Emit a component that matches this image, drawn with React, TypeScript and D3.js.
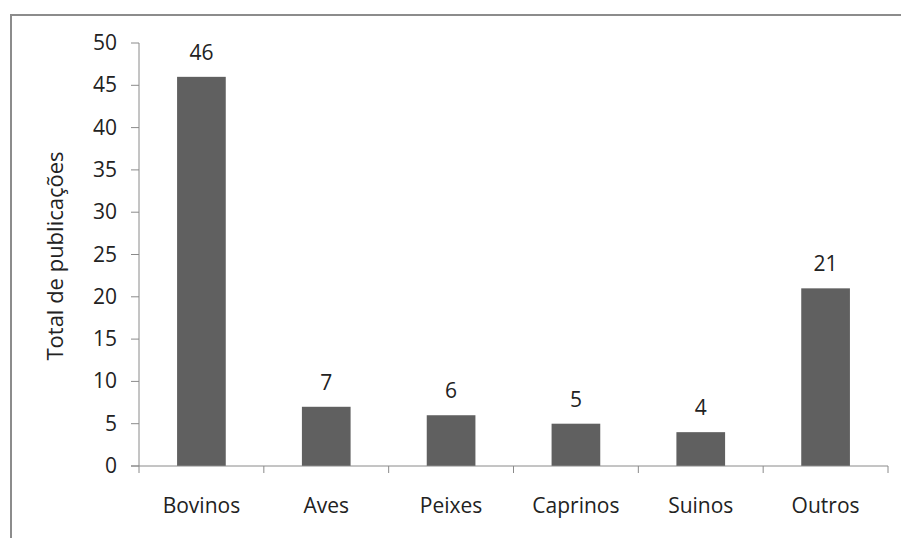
import React from "react";
import * as d3 from "d3";

const categories = ["Bovinos", "Aves", "Peixes", "Caprinos", "Suinos", "Outros"];
const values = [46, 7, 6, 5, 4, 21];
const yTicks = [0, 5, 10, 15, 20, 25, 30, 35, 40, 45, 50];
const yLabel = "Total de publicações";

export default function App() {
  const W = 901, H = 538;
  const left = 139, right = 888, top = 43, bottom = 466;
  const x = d3.scaleBand<string>().domain(categories).range([left, right]).paddingInner(0.61).paddingOuter(0.305);
  const y = d3.scaleLinear().domain([0, 50]).range([bottom, top]);
  const band = d3.scaleBand<string>().domain(categories).range([left, right]);
  const font = "'Open Sans', sans-serif";
  const axisColor = "#8a8a8a";
  const fs = 21;
  return (
    <svg width={W} height={H} style={{ position: "absolute", left: 0, top: 0 }} fontFamily={font}>
      <rect x={0} y={0} width={W} height={H} fill="#fff" />
      <rect x={11} y={15} width={W + 10} height={H} fill="none" stroke="#8c8c8c" strokeWidth={2} />
      {values.map((v, i) => (
        <rect key={categories[i]} x={x(categories[i])} y={y(v)} width={x.bandwidth()} height={bottom - y(v)} fill="#606060" />
      ))}
      {values.map((v, i) => (
        <text key={"l" + i} x={x(categories[i])! + x.bandwidth() / 2} y={y(v) - 17} textAnchor="middle" fontSize={fs} fill="#222">{v}</text>
      ))}
      <line x1={left} x2={left} y1={top} y2={bottom} stroke={axisColor} />
      <line x1={left - 8} x2={right} y1={bottom} y2={bottom} stroke={axisColor} />
      {yTicks.map((t) => (
        <g key={t}>
          <line x1={left - 8} x2={left} y1={y(t)} y2={y(t)} stroke={axisColor} />
          <text x={117} y={y(t) + 7} textAnchor="end" fontSize={fs} fill="#222">{t}</text>
        </g>
      ))}
      {categories.map((c) => (
        <line key={"t" + c} x1={band(c)! + band.bandwidth()} x2={band(c)! + band.bandwidth()} y1={bottom} y2={bottom + 7} stroke={axisColor} />
      ))}
      <line x1={left} x2={left} y1={bottom} y2={bottom + 7} stroke={axisColor} />
      {categories.map((c) => (
        <text key={"c" + c} x={band(c)! + band.bandwidth() / 2} y={513} textAnchor="middle" fontSize={fs} fill="#222">{c}</text>
      ))}
      <text transform={`translate(63,256) rotate(-90)`} textAnchor="middle" fontSize={22} fill="#222">{yLabel}</text>
    </svg>
  );
}
